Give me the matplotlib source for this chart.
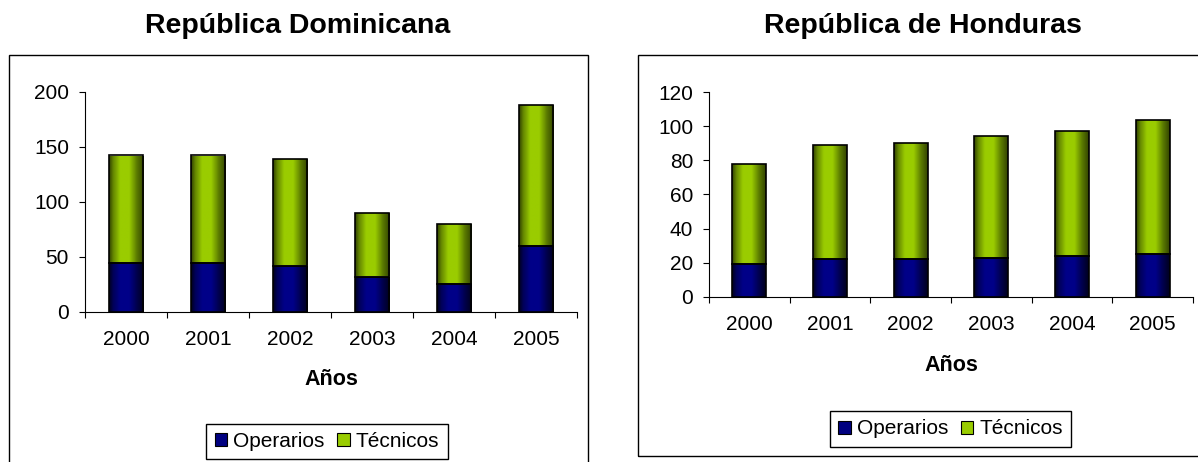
import numpy as np
import matplotlib
matplotlib.use('Agg')
import matplotlib.pyplot as plt
from matplotlib.colors import LinearSegmentedColormap
from matplotlib.patches import Patch, Rectangle

plt.rcParams['font.family'] = ['Liberation Sans', 'DejaVu Sans']

# Data
anios = ['2000', '2001', '2002', '2003', '2004', '2005']
dom_operarios = [44, 44, 42, 32, 25, 60]
dom_tecnicos = [98, 98, 97, 58, 55, 128]
hon_operarios = [19, 22, 22, 23, 24, 25]
hon_tecnicos = [59, 67, 68, 71.5, 73, 79]

NAVY = '#000080'
GREEN = '#99CC00'

# cylinder-like shading across each bar
stops = [0.0, 0.12, 0.32, 0.58, 0.8, 1.0]
navy_cmap = LinearSegmentedColormap.from_list(
    'navy', list(zip(stops, ['#00001e', '#00005a', '#000088', '#000088', '#00004e', '#00001e'])))
green_cmap = LinearSegmentedColormap.from_list(
    'green', list(zip(stops, ['#334400', '#668800', '#9acc00', '#9acc00', '#5c7c00', '#334400'])))
grad = np.linspace(0, 1, 64).reshape(1, -1)


def shaded_bars(ax, x, heights, bottoms, width, cmap):
    bars = ax.bar(x, heights, width, bottom=bottoms, facecolor='none',
                  edgecolor='black', linewidth=1.2, zorder=4)
    for b in bars:
        im = ax.imshow(grad, extent=[b.get_x(), b.get_x() + b.get_width(),
                                     b.get_y(), b.get_y() + b.get_height()],
                       aspect='auto', cmap=cmap, zorder=3, interpolation='bilinear')
        im.set_clip_path(b)
    return bars


def draw_chart(ax, operarios, tecnicos, ymax, ystep, xlabel_y, legend_xy):
    x = np.arange(len(anios))
    shaded_bars(ax, x, operarios, 0, 0.42, navy_cmap)
    shaded_bars(ax, x, tecnicos, operarios, 0.42, green_cmap)

    ax.set_xlim(-0.5, len(anios) - 0.5)
    ax.set_ylim(0, ymax)
    ax.set_yticks(np.arange(0, ymax + 1, ystep))
    ax.set_xticks(x)
    ax.set_xticklabels(anios)
    ax.set_xticks(np.arange(-0.5, len(anios), 1), minor=True)
    ax.tick_params(axis='x', which='major', length=0, pad=13, labelsize=15)
    ax.tick_params(axis='x', which='minor', length=4.5, width=0.8, direction='out')
    ax.tick_params(axis='y', length=4.5, width=0.8, pad=7, labelsize=15)
    for s in ['top', 'right']:
        ax.spines[s].set_visible(False)
    for s in ['left', 'bottom']:
        ax.spines[s].set_linewidth(0.8)
    ax.set_xlabel('Años', fontsize=15.5, fontweight='bold', va='center')
    ax.xaxis.set_label_coords(0.5, xlabel_y)

    handles = [Patch(facecolor=NAVY, edgecolor='black', linewidth=0.8, label='Operarios'),
               Patch(facecolor=GREEN, edgecolor='black', linewidth=0.8, label='Técnicos')]
    ax.legend(handles=handles, loc='center', ncol=2, bbox_to_anchor=legend_xy,
              bbox_transform=fig.transFigure, fontsize=15, frameon=True,
              fancybox=False, edgecolor='black', framealpha=1,
              handlelength=0.6, handleheight=0.6, handletextpad=0.3,
              columnspacing=0.6, borderpad=0.4)


fig = plt.figure(figsize=(11.98, 4.62), dpi=100)

# chart area frames
fig.patches.append(Rectangle((9 / 1198, -0.05), 579 / 1198, 0.931, transform=fig.transFigure,
                             fill=False, edgecolor='black', linewidth=1.0))
fig.patches.append(Rectangle((638 / 1198, 6 / 462), 0.5, 0.868, transform=fig.transFigure,
                             fill=False, edgecolor='black', linewidth=1.0))

ax1 = fig.add_axes([85 / 1198, 150.3 / 462, 492 / 1198, 220 / 462])
ax2 = fig.add_axes([709 / 1198, 165.3 / 462, 484 / 1198, 204.4 / 462])

draw_chart(ax1, dom_operarios, dom_tecnicos, 200, 50, -0.31, (327 / 1198, 20.5 / 462))
draw_chart(ax2, hon_operarios, hon_tecnicos, 120, 20, -0.339, (950.5 / 1198, 33 / 462))

fig.text(298 / 1198, 0.944, 'República Dominicana', ha='center', va='center',
         fontsize=20.5, fontweight='bold')
fig.text(923 / 1198, 0.944, 'República de Honduras', ha='center', va='center',
         fontsize=20.5, fontweight='bold')

fig.savefig('out.png', dpi=100)
